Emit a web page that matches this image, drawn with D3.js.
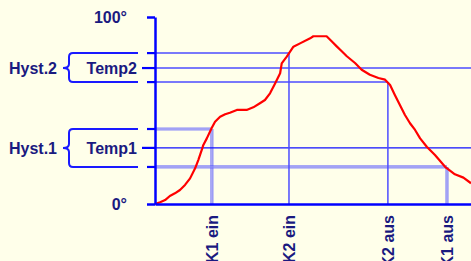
<!DOCTYPE html>
<html>
<head>
<meta charset="utf-8">
<script src="https://cdn.jsdelivr.net/npm/d3@7"></script>
<style>
  html, body { margin: 0; padding: 0; background: #ffffea; }
  svg { display: block; }
  text { font-family: "Liberation Sans", Arial, sans-serif; font-weight: bold; font-size: 16px; fill: #1a1a80; }
</style>
</head>
<body>
<script>
// DATA

// temperature curve (time in %, temperature in degrees)
var curveTime = [0, 1.6, 3.2, 4.7, 6.3, 7.9, 9.5, 11.1, 12.7, 13.7, 14.8, 15.3, 16.4, 17.9, 19.0, 20.6, 22.2, 23.7, 25.9, 29.0,
  31.1, 33.2, 34.8, 36.4, 38.0, 39.6, 40.1, 41.7, 42.7, 43.8, 45.9, 49.1, 50.1, 54.3, 55.9, 57.5, 59.1, 60.7, 63.3, 65.4,
  68.0, 70.7, 72.8, 73.8, 74.4, 75.9, 77.5, 79.1, 80.7, 82.3, 83.9, 86.0, 88.6, 91.8, 94.9, 97.6, 100];
var curveTemp = [0, 0.9, 2.1, 4.3, 5.7, 7.5, 10.2, 13.7, 19.1, 23.5, 28.9, 31.6, 35.1, 40.5, 44.0, 46.7, 48.0, 48.8, 50.3, 50.3,
  51.7, 53.9, 55.6, 59.2, 64.5, 69.9, 75.2, 78.8, 81.4, 84.1, 85.9, 88.6, 89.7, 89.7, 87.0, 84.3, 81.7, 79.0, 75.4, 71.8,
  69.1, 67.4, 66.5, 64.7, 63.6, 58.3, 52.9, 47.6, 43.2, 39.6, 35.1, 30.6, 26.2, 19.9, 15.9, 14.1, 11.1];

// set points with hysteresis bands
var hystNames = ["Hyst.1", "Hyst.2"];
var setNames = ["Temp1", "Temp2"];
var setTemps = [30, 72.7];
var hystUpper = [40.1, 80.7];
var hystLower = [19.8, 65.2];

// switching points
var onLabels = ["K1 ein", "K2 ein"];
var onTimes = [18.0, 42.4];
var offLabels = ["K1 aus", "K2 aus"];
var offTimes = [92.4, 73.7];

var yTicks = [0, 100];

// CHART STRUCTURE

var svgWidth = 471;
var svgHeight = 261;

var svg = d3.select("body")
  .append("svg")
  .attr("width", svgWidth)
  .attr("height", svgHeight);

var x = d3.scaleLinear().domain([0, 100]).range([155, 471]);
var y = d3.scaleLinear().domain([0, 100]).range([204, 17]);

var blue = "#0000ff";

// HYSTERESIS LINES

var guides = svg.append("g");

// draws a guide segment; stage 1 uses a doubled line
function guide(x1, y1, x2, y2, doubled) {
  if (doubled) {
    guides.append("line")
      .attr("x1", x1).attr("x2", x2).attr("y1", y1).attr("y2", y2)
      .attr("stroke", "#4d4dff").attr("stroke-width", 3.2).attr("stroke-opacity", 0.65);
    guides.append("line")
      .attr("x1", x1).attr("x2", x2).attr("y1", y1).attr("y2", y2)
      .attr("stroke", "#ffffea").attr("stroke-width", 0.9).attr("stroke-opacity", 0.45);
  } else {
    guides.append("line")
      .attr("x1", x1).attr("x2", x2).attr("y1", y1).attr("y2", y2)
      .attr("stroke", "#4d4dff").attr("stroke-width", 1.5);
  }
}

setTemps.forEach(function(t, i) {
  var first = i === 0;

  // upper band -> switch on
  guide(x(0), y(hystUpper[i]), x(onTimes[i]), y(hystUpper[i]), first);
  guide(x(onTimes[i]), y(hystUpper[i]), x(onTimes[i]), y(0), first);

  // lower band -> switch off
  guide(x(0), y(hystLower[i]), x(offTimes[i]), y(hystLower[i]), first);
  guide(x(offTimes[i]), y(hystLower[i]), x(offTimes[i]), y(0), first);

  // set point
  guides.append("line")
    .attr("x1", x(0)).attr("x2", x(100))
    .attr("y1", y(t)).attr("y2", y(t))
    .attr("stroke", first ? "#1010ff" : "#4d4dff")
    .attr("stroke-width", first ? 1.3 : 1.5);
});

// TEMPERATURE CURVE

var line = d3.line()
  .x(function(d, i) { return x(curveTime[i]); })
  .y(function(d) { return y(d); });

svg.append("path")
  .datum(curveTemp)
  .attr("d", line)
  .attr("fill", "none")
  .attr("stroke", "#ff0000")
  .attr("stroke-width", 2.2)
  .attr("stroke-linejoin", "round");

// AXES

var yAxis = d3.axisLeft(y)
  .tickValues(yTicks)
  .tickFormat(function(d) { return d + "°"; })
  .tickSize(8)
  .tickSizeOuter(0)
  .tickPadding(20);

var yAxisG = svg.append("g")
  .attr("transform", "translate(" + x(0) + ",0)")
  .call(yAxis);

var xAxis = d3.axisBottom(x)
  .tickValues(onTimes.concat(offTimes))
  .tickFormat(function(d, i) { return onLabels.concat(offLabels)[i]; })
  .tickSize(0)
  .tickSizeOuter(0);

var xAxisG = svg.append("g")
  .attr("transform", "translate(0," + y(0) + ")")
  .call(xAxis);

xAxisG.selectAll("text")
  .attr("transform", "rotate(-90)")
  .attr("x", -11)
  .attr("y", 0)
  .attr("dy", "0.35em")
  .attr("text-anchor", "end");

[yAxisG, xAxisG].forEach(function(g) {
  g.attr("font-size", null).attr("font-family", null);
  g.select(".domain").attr("stroke", blue).attr("stroke-width", 2.5);
  g.selectAll(".tick line").attr("stroke", blue).attr("stroke-width", 2.5);
  g.selectAll("text").attr("fill", "#1a1a80");
});

// TICKS AT SET POINTS AND BANDS

var tickG = svg.append("g");
setTemps.forEach(function(t, i) {
  [hystUpper[i], hystLower[i]].forEach(function(v) {
    tickG.append("line")
      .attr("x1", 147).attr("x2", x(0) + 1)
      .attr("y1", y(v)).attr("y2", y(v))
      .attr("stroke", blue).attr("stroke-width", 2.2);
  });
  tickG.append("line")
    .attr("x1", 142).attr("x2", x(0) + 1)
    .attr("y1", y(t)).attr("y2", y(t))
    .attr("stroke", blue).attr("stroke-width", 2.2);
});

// LABELS AND BRACES

var labelG = svg.append("g");

setTemps.forEach(function(t, i) {
  var top = y(hystUpper[i]);
  var mid = y(t);
  var bot = y(hystLower[i]);

  labelG.append("text")
    .attr("x", 137).attr("y", mid).attr("dy", "0.35em")
    .attr("text-anchor", "end")
    .text(setNames[i]);

  labelG.append("text")
    .attr("x", 57).attr("y", mid).attr("dy", "0.35em")
    .attr("text-anchor", "end")
    .text(hystNames[i]);

  var p = d3.path();
  p.moveTo(138, top);
  p.lineTo(73, top);
  p.quadraticCurveTo(69, top, 69, top + 4);
  p.lineTo(69, mid - 4);
  p.quadraticCurveTo(69, mid, 63, mid);
  p.quadraticCurveTo(69, mid, 69, mid + 4);
  p.lineTo(69, bot - 4);
  p.quadraticCurveTo(69, bot, 73, bot);
  p.lineTo(138, bot);

  labelG.append("path")
    .attr("d", p.toString())
    .attr("fill", "none")
    .attr("stroke", "#1a1aff")
    .attr("stroke-width", 2);
});
</script>
</body>
</html>
